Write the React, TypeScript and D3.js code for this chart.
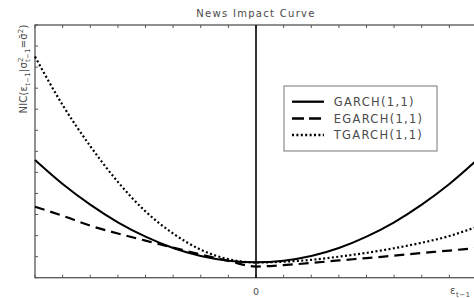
import React from "react";
import * as d3 from "d3";

// shocks (x axis) and the three news impact curves
const shocks = [-8, -7, -6, -5, -4, -3, -2, -1, 0, 1, 2, 3, 4, 5, 6, 7, 8];
const garch = [5.59, 4.45, 3.47, 2.63, 1.95, 1.41, 1.03, 0.81, 0.73, 0.81, 1.03, 1.41, 1.95, 2.63, 3.47, 4.45, 5.59];
const egarch = [3.37, 2.94, 2.47, 2.1, 1.76, 1.43, 1.1, 0.8, 0.53, 0.6, 0.7, 0.82, 0.93, 1.05, 1.17, 1.29, 1.41];
const tgarch = [10.5, 8.2, 6.25, 4.55, 3.15, 2.1, 1.33, 0.88, 0.72, 0.76, 0.85, 1.0, 1.18, 1.4, 1.66, 1.98, 2.42];

const seriesNames = ["GARCH(1,1)", "EGARCH(1,1)", "TGARCH(1,1)"];
const xTicks = d3.range(-8, 9);
const yTicks = d3.range(0, 13);

const width = 474;
const height = 298;
const margin = { top: 25, right: -3, bottom: 20.3, left: 35 };

const textColor = "#4a4a4a";
const font = "DejaVu Sans, sans-serif";

const App = () => {
  const x = d3
    .scaleLinear()
    .domain([-8, 8])
    .range([margin.left, width - margin.right]);
  const y = d3
    .scaleLinear()
    .domain([0, 12])
    .range([height - margin.bottom, margin.top]);

  const line = d3
    .line<number>()
    .x((d, i) => x(shocks[i]))
    .y((d) => y(d))
    .curve(d3.curveMonotoneX);

  const styles = [
    { dash: undefined, width: 2 },
    { dash: "10,6", width: 2.2 },
    { dash: "2,2.4", width: 2.2 },
  ];
  const data = [garch, egarch, tgarch];

  const x0 = x(-8);
  const x1 = x(8);
  const yb = y(0);
  const yt = y(12);
  const tick = 3;

  return (
    <svg
      width={width}
      height={height}
      style={{ position: "absolute", left: 0, top: 0, background: "#fff" }}
    >
      {/* title */}
      <text
        x={x(0)}
        y={16.7}
        textAnchor="middle"
        fontFamily={font}
        fontSize={10}
        letterSpacing={1.3}
        fill={textColor}
      >
        News Impact Curve
      </text>

      {/* frame */}
      <rect
        x={x0}
        y={yt}
        width={x1 - x0}
        height={yb - yt}
        fill="none"
        stroke="#555"
        strokeWidth={1.3}
      />

      {/* ticks on all four sides */}
      {xTicks.map((t) => (
        <g key={"xt" + t} stroke="#555" strokeWidth={1}>
          <line x1={x(t)} x2={x(t)} y1={yb} y2={yb - tick} />
          <line x1={x(t)} x2={x(t)} y1={yt} y2={yt + tick} />
        </g>
      ))}
      {yTicks.map((t) => (
        <g key={"yt" + t} stroke="#555" strokeWidth={1}>
          <line x1={x0} x2={x0 + tick} y1={y(t)} y2={y(t)} />
          <line x1={x1} x2={x1 - tick} y1={y(t)} y2={y(t)} />
        </g>
      ))}

      {/* zero line */}
      <line x1={x(0)} x2={x(0)} y1={yt} y2={yb} stroke="#000" strokeWidth={1.6} />

      {/* curves */}
      {data.map((d, i) => (
        <path
          key={seriesNames[i]}
          d={line(d) || ""}
          fill="none"
          stroke="#000"
          strokeWidth={styles[i].width}
          strokeDasharray={styles[i].dash}
        />
      ))}

      {/* x labels */}
      <text x={x(0)} y={295} textAnchor="middle" fontFamily={font} fontSize={9.5} fill={textColor}>
        0
      </text>
      <text x={450} y={294} fontFamily={font} fontSize={10} letterSpacing={0.5} fill={textColor}>
        ε
        <tspan dy={2.5} fontSize={7}>t−1</tspan>
      </text>

      {/* y label */}
      <text
        transform="translate(27,69) rotate(-90)"
        textAnchor="middle"
        fontFamily={font}
        fontSize={10}
        letterSpacing={0.2}
        fill={textColor}
      >
        NIC(ε
        <tspan dy={2.5} fontSize={7}>t−1</tspan>
        <tspan dy={-2.5}>|σ</tspan>
        <tspan dy={-4} fontSize={7}>2</tspan>
        <tspan dx={-4.6} dy={6.5} fontSize={7}>t−1</tspan>
        <tspan dy={-2.5}>=σ̄</tspan>
        <tspan dy={-4} fontSize={7}>2</tspan>
        <tspan dy={4}>)</tspan>
      </text>

      {/* legend */}
      <rect x={284} y={86} width={153} height={65} fill="#fff" stroke="#777" strokeWidth={1} />
      {seriesNames.map((name, i) => {
        const ly = 101.7 + i * 16.7;
        return (
          <g key={"lg" + name}>
            <line
              x1={292}
              x2={324}
              y1={ly}
              y2={ly}
              stroke="#000"
              strokeWidth={styles[i].width + 0.3}
              strokeDasharray={i === 1 ? "12,5" : styles[i].dash}
            />
            <text
              x={333.7}
              y={ly + 4.2}
              fontFamily={font}
              fontSize={11.5}
              letterSpacing={1.3}
              fill={textColor}
            >
              {name}
            </text>
          </g>
        );
      })}
    </svg>
  );
};

export default App;
